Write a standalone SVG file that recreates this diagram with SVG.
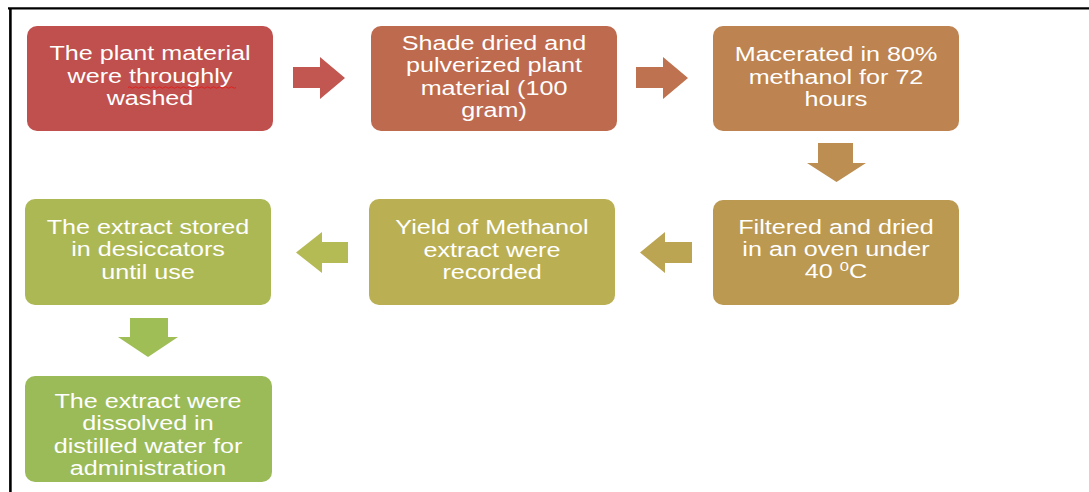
<svg xmlns="http://www.w3.org/2000/svg" width="1089" height="492" viewBox="0 0 1089 492">
<style>
  .box { stroke: none; }
  .lbl { font-family: "Liberation Sans", Arial, sans-serif; font-size: 19.8px; fill: #FFFFFF; text-anchor: middle; }
  .frame { stroke: #000000; fill: none; }
</style>
<rect x="0" y="0" width="1089" height="492" fill="#FFFFFF"/>
<g id="frame">
  <line class="frame" x1="8" y1="8.4" x2="1089" y2="8.4" stroke-width="2.4"/>
  <line class="frame" x1="10.4" y1="8" x2="10.4" y2="492" stroke-width="2.6"/>
</g>
<g id="connectors">
  <polygon points="293,67 320,67 320,57 345,78 320,99 320,88 293,88" fill="#C25650"/>
  <polygon points="636,67 663,67 663,57 688,78 663,99 663,88 636,88" fill="#BF724F"/>
  <polygon points="818,143 853,143 853,163 866,163 836.5,182 807,163 818,163" fill="#BD8E51"/>
  <polygon points="692,242 665,242 665,232 640,252.5 665,273 665,263 692,263" fill="#BBA452"/>
  <polygon points="348,242 322,242 322,232 296,252.5 322,273 322,263 348,263" fill="#B4BA54"/>
  <polygon points="130,318 168,318 168,337 178,337 148,357 118,337 130,337" fill="#9FBE56"/>
</g>
<g id="n1">
  <rect class="box" x="27" y="26" width="246" height="105" rx="10" fill="#C0504D"/>
  <g transform="translate(150,0) scale(1.27,1)">
    <text class="lbl" x="0" y="60.5">The plant material</text>
    <text class="lbl" x="0" y="83">were throughly</text>
    <text class="lbl" x="0" y="105.5">washed</text>
  </g>
  <path d="M128,87.5 q1.5,-1.5 3,0 t3,0 t3,0 t3,0 t3,0 t3,0 t3,0 t3,0 t3,0 t3,0 t3,0 t3,0 t3,0 t3,0 t3,0 t3,0 t3,0 t3,0 t3,0 t3,0 t3,0 t3,0 t3,0 t3,0 t3,0 t3,0 t3,0 t3,0 t3,0 t3,0 t3,0 t3,0 t3,0 t3,0 t3,0 t3,0" stroke="#E0201E" stroke-width="1" fill="none"/>
</g>
<g id="n2">
  <rect class="box" x="371" y="26" width="246" height="105" rx="10" fill="#BE6A4E"/>
  <g transform="translate(494,0) scale(1.27,1)">
    <text class="lbl" x="0" y="50">Shade dried and</text>
    <text class="lbl" x="0" y="72.5">pulverized plant</text>
    <text class="lbl" x="0" y="95">material (100</text>
    <text class="lbl" x="0" y="117.5">gram)</text>
  </g>
</g>
<g id="n3">
  <rect class="box" x="713" y="26" width="246" height="105" rx="10" fill="#BD8350"/>
  <g transform="translate(836,0) scale(1.27,1)">
    <text class="lbl" x="0" y="61.5">Macerated in 80%</text>
    <text class="lbl" x="0" y="84">methanol for 72</text>
    <text class="lbl" x="0" y="106.5">hours</text>
  </g>
</g>
<g id="n4">
  <rect class="box" x="713" y="200" width="246" height="105" rx="10" fill="#BB9951"/>
  <g transform="translate(836,0) scale(1.27,1)">
    <text class="lbl" x="0" y="233.5">Filtered and dried</text>
    <text class="lbl" x="0" y="256">in an oven under</text>
    <text class="lbl" x="0" y="278.5">40 <tspan font-size="13" dy="-7">0</tspan><tspan dy="7">C</tspan></text>
  </g>
</g>
<g id="n5">
  <rect class="box" x="369" y="199" width="246" height="106" rx="10" fill="#BAB053"/>
  <g transform="translate(492,0) scale(1.27,1)">
    <text class="lbl" x="0" y="234.5">Yield of Methanol</text>
    <text class="lbl" x="0" y="257">extract were</text>
    <text class="lbl" x="0" y="279.5">recorded</text>
  </g>
</g>
<g id="n6">
  <rect class="box" x="25" y="199" width="246" height="106" rx="10" fill="#ACB854"/>
  <g transform="translate(148,0) scale(1.27,1)">
    <text class="lbl" x="0" y="234">The extract stored</text>
    <text class="lbl" x="0" y="256.5">in desiccators</text>
    <text class="lbl" x="0" y="279">until use</text>
  </g>
</g>
<g id="n7">
  <rect class="box" x="25" y="376" width="247" height="106" rx="10" fill="#9BBB59"/>
  <g transform="translate(148,0) scale(1.27,1)">
    <text class="lbl" x="0" y="408">The extract were</text>
    <text class="lbl" x="0" y="430.5">dissolved in</text>
    <text class="lbl" x="0" y="453">distilled water for</text>
    <text class="lbl" x="0" y="475.5">administration</text>
  </g>
</g>
</svg>
